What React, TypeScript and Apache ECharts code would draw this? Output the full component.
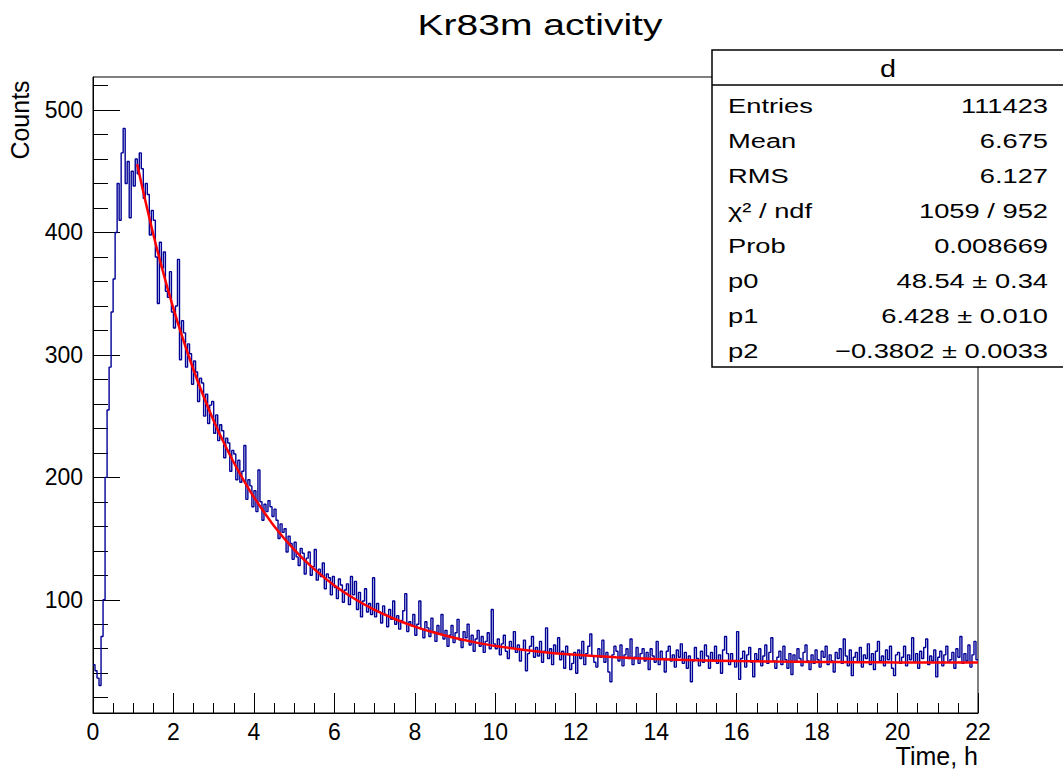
import React, { useEffect, useRef } from "react";
import * as echarts from "echarts";

// ---- data ----
const BIN_WIDTH = 0.05; // hours per bin
const X_MAX = 22;

// counts per bin, bins starting at 0.00 h
const countsRise = [47, 42, 36, 30, 70, 100, 200, 255, 290, 335, 362, 400, 440, 410, 465, 485, 440, 458, 412, 450, 438, 460];
const countsDecay1 = [448, 465, 452, 428, 440, 431, 398, 418, 410, 380, 342, 392, 371, 384, 352, 347, 368, 335, 322, 340, 378, 296, 328, 318, 290, 309, 301, 276, 295, 286, 262, 281, 277, 250, 268, 244, 259, 262];
const countsDecay2 = [236, 251, 230, 243, 238, 216, 232, 228, 205, 222, 219, 198, 214, 196, 205, 226, 182, 198, 193, 176, 189, 172, 206, 180, 165, 178, 172, 181, 176, 168, 174, 165, 150, 162, 155, 158, 139, 152, 146, 133];
const countsDecay3 = [147, 135, 128, 142, 138, 121, 134, 139, 120, 127, 141, 116, 125, 119, 130, 109, 121, 118, 104, 119, 110, 101, 117, 112, 98, 108, 113, 96, 119, 104, 115, 92, 106, 86, 99, 109, 90, 97, 88, 118];
const countsMid = [86, 97, 90, 81, 95, 88, 78, 92, 84, 99, 80, 87, 76, 83, 91, 105, 74, 82, 79, 88, 71, 80, 99, 76, 69, 82, 77, 70, 85, 74, 66, 79, 72, 88, 68, 75, 62, 71, 79, 65, 73, 84, 67, 61, 74, 69, 80, 63, 71, 58, 68, 75, 62, 70, 57, 66, 73, 60, 92, 64];
const countsTail1 = [
  60, 68, 55, 64, 71, 58, 52, 66, 61, 74, 57, 63, 50, 59, 67, 42, 56, 62, 70, 53,
  61, 54, 66, 49, 58, 77, 52, 60, 47, 63, 56, 69, 51, 58, 44, 62, 55, 43, 48, 57,
  40, 59, 52, 66, 47, 56, 62, 72, 54, 49, 45, 60, 53, 67, 49, 57, 41, 33, 55, 62,
  58, 50, 63, 46, 55, 60, 52, 68, 47, 53, 61, 48, 56, 60, 50, 57, 43, 60, 54, 49,
  66, 47, 58, 52, 41, 58, 62, 50, 55, 45, 59, 53, 64, 48, 57, 44, 54, 33, 50, 61,
  52, 46, 58, 49, 63, 54, 44, 57, 51, 62, 48, 55, 40, 59, 70, 56, 47, 56, 50, 45,
];
const countsTail2 = [
  74, 35, 52, 58, 45, 55, 61, 49, 37, 56, 51, 60, 46, 54, 63, 48, 57, 69, 50, 44,
  53, 58, 47, 62, 51, 44, 56, 39, 55, 49, 60, 52, 46, 57, 63, 50, 43, 55, 48, 59,
  51, 45, 58, 53, 62, 47, 55, 50, 41, 57, 52, 60, 48, 68, 54, 46, 59, 38, 53, 57,
  49, 61, 45, 55, 52, 64, 47, 56, 43, 58, 66, 50, 54, 46, 59, 51, 62, 44, 38, 55,
  57, 48, 53, 62, 46, 55, 51, 69, 49, 56, 44, 58, 52, 61, 68, 47, 54, 50, 59, 37,
  53, 58, 46, 55, 62, 49, 51, 57, 44, 60, 53, 70, 48, 56, 50, 63, 45, 55, 66, 51,
];

// fitted curve p0 + exp(p1 + p2*x), values read at these times
const fitX = [1.1, 1.25, 1.5, 1.75, 2, 2.25, 2.5, 2.75, 3, 3.25, 3.5, 3.75, 4, 4.5, 5, 5.5, 6, 6.5, 7, 7.5, 8, 8.5, 9, 9.5, 10, 11, 12, 13, 14, 15, 16, 17, 18, 19, 20, 21, 22];
const fitY = [455.8, 433.2, 398.4, 366.7, 337.8, 311.6, 287.7, 266.0, 246.3, 228.4, 212.1, 197.3, 183.8, 160.3, 141.0, 125.0, 111.7, 100.8, 91.7, 84.3, 78.1, 73.0, 68.7, 65.2, 62.3, 58.0, 55.0, 53.0, 51.6, 50.6, 49.95, 49.5, 49.2, 48.97, 48.85, 48.75, 48.68];

const xTickStep = 2;
const yMajorTicks = [100, 200, 300, 400, 500];
const yMinorTicks = [20, 40, 60, 80, 120, 140, 160, 180, 220, 240, 260, 280, 320, 340, 360, 380, 420, 440, 460, 480, 520];
const Y_MIN = 7.5;
const Y_MAX = 527;

const titleText = "Kr83m activity";
const xAxisTitle = "Time, h";
const yAxisTitle = "Counts";
const statHeader = "d";
const statLabels = ["Entries", "Mean", "RMS", "χ² / ndf", "Prob", "p0", "p1", "p2"];
const statValues = ["111423", "6.675", "6.127", "1059 / 952", "0.008669", "48.54 ± 0.34", "6.428 ± 0.010", "−0.3802 ± 0.0033"];

const FONT = "'Liberation Sans', Arial, Helvetica, sans-serif";

export default function App() {
  const ref = useRef<HTMLDivElement | null>(null);

  useEffect(() => {
    if (!ref.current) return;
    const chart = echarts.init(ref.current, undefined, { renderer: "svg" });

    const counts = [
      ...countsRise,
      ...countsDecay1,
      ...countsDecay2,
      ...countsDecay3,
      ...countsMid,
      ...countsTail1,
      ...countsTail2,
    ];
    const histPoints: number[][] = counts.map((c, i) => [+(i * BIN_WIDTH).toFixed(4), c]);
    histPoints.push([X_MAX, counts[counts.length - 1]]);
    const fitPoints = fitX.map((x, i) => [x, fitY[i]]);

    const statGraphics: any[] = [];
    statGraphics.push({
      type: "rect",
      shape: { x: 712, y: 50, width: 360, height: 317 },
      style: { fill: "#fff", stroke: "#000", lineWidth: 1.5 },
      z: 100,
    });
    statGraphics.push({
      type: "line",
      shape: { x1: 712, y1: 85, x2: 1063, y2: 85 },
      style: { stroke: "#000", lineWidth: 1.5 },
      z: 101,
    });
    statGraphics.push({
      type: "text",
      x: 888,
      y: 69,
      scaleX: 1.2,
      style: { text: statHeader, fontSize: 24, fontFamily: FONT, fill: "#000", align: "center", verticalAlign: "middle" },
      z: 101,
    });
    statLabels.forEach((lab, i) => {
      const y = 105.8 + i * 35;
      statGraphics.push({
        type: "text",
        x: 728,
        y,
        scaleX: 1.3,
        style: { text: lab, fontSize: 21, fontFamily: FONT, fill: "#000", align: "left", verticalAlign: "middle" },
        z: 101,
      });
      statGraphics.push({
        type: "text",
        x: 1048,
        y,
        scaleX: 1.3,
        style: { text: statValues[i], fontSize: 21, fontFamily: FONT, fill: "#000", align: "right", verticalAlign: "middle" },
        z: 101,
      });
    });

    const option: any = {
      animation: false,
      backgroundColor: "#fff",
      textStyle: { fontFamily: FONT },
      grid: {
        left: 93,
        right: 85,
        top: 77,
        bottom: 57,
        show: true,
        borderColor: "#000",
        borderWidth: 1,
        backgroundColor: "transparent",
      },
      xAxis: {
        type: "value",
        min: 0,
        max: X_MAX,
        interval: xTickStep,
        axisLine: { show: true, onZero: false, lineStyle: { color: "#000", width: 1 } },
        axisTick: { show: true, inside: true, length: 20, lineStyle: { color: "#000", width: 1 } },
        minorTick: { show: true, splitNumber: 4, length: 10, lineStyle: { color: "#000", width: 1 } },
        axisLabel: { color: "#000", fontSize: 23, fontFamily: FONT, margin: 7 },
        splitLine: { show: false },
        minorSplitLine: { show: false },
      },
      yAxis: [
        {
          type: "value",
          min: Y_MIN,
          max: Y_MAX,
          position: "left",
          axisLine: { show: true, onZero: false, lineStyle: { color: "#000", width: 1 } },
          axisTick: { show: true, inside: true, length: 27, customValues: yMajorTicks, lineStyle: { color: "#000", width: 1 } },
          axisLabel: { show: true, customValues: yMajorTicks, color: "#000", fontSize: 23, fontFamily: FONT, margin: 10 },
          splitLine: { show: false },
        },
        {
          type: "value",
          min: Y_MIN,
          max: Y_MAX,
          position: "left",
          offset: 0,
          axisLine: { show: false, onZero: false },
          axisTick: { show: true, inside: true, length: 15, customValues: yMinorTicks, lineStyle: { color: "#000", width: 1 } },
          axisLabel: { show: false },
          splitLine: { show: false },
        },
      ],
      series: [
        {
          type: "line",
          name: "d",
          data: histPoints,
          step: "end",
          symbol: "none",
          yAxisIndex: 0,
          lineStyle: { color: "#000096", width: 1.4 },
          itemStyle: { color: "#000096" },
          z: 2,
        },
        {
          type: "line",
          name: "fit",
          data: fitPoints,
          smooth: 0.3,
          symbol: "none",
          yAxisIndex: 0,
          lineStyle: { color: "#ff0000", width: 2.5 },
          itemStyle: { color: "#ff0000" },
          z: 3,
        },
      ],
      graphic: [
        {
          type: "text",
          x: 540,
          y: 24.5,
          scaleX: 1.3,
          style: { text: titleText, fontSize: 30, fontFamily: FONT, fill: "#000", align: "center", verticalAlign: "middle" },
          z: 50,
        },
        {
          type: "text",
          x: 978,
          y: 756,
          style: { text: xAxisTitle, fontSize: 25, fontFamily: FONT, fill: "#000", align: "right", verticalAlign: "middle" },
          z: 50,
        },
        {
          type: "text",
          x: 20,
          y: 120,
          rotation: Math.PI / 2,
          style: { text: yAxisTitle, fontSize: 25, fontFamily: FONT, fill: "#000", align: "center", verticalAlign: "middle" },
          z: 50,
        },
        ...statGraphics,
      ],
    };

    chart.setOption(option);
    return () => {
      chart.dispose();
    };
  }, []);

  return (
    <div
      ref={ref}
      style={{ position: "fixed", left: 0, top: 0, width: 1063, height: 770, background: "#fff" }}
    />
  );
}
